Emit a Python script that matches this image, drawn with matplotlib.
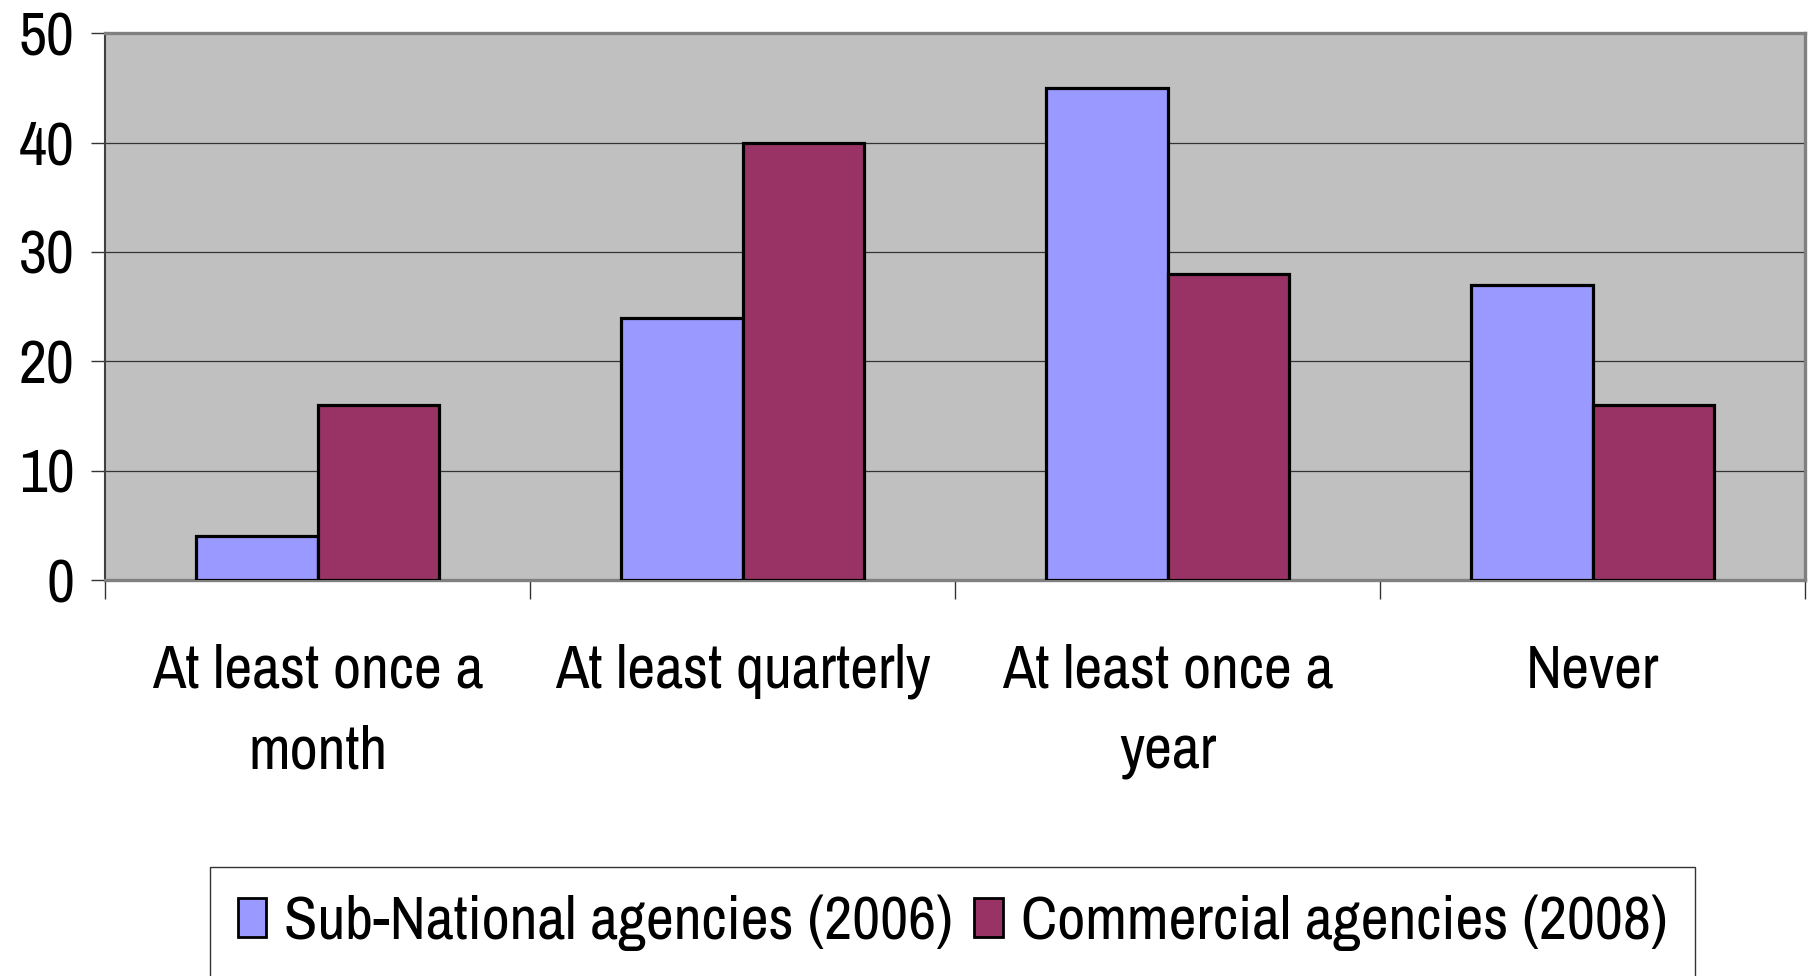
import matplotlib.pyplot as plt
import numpy as np

categories = ['At least once a\nmonth', 'At least quarterly', 'At least once a\nyear', 'Never']
sub_national_2006 = [4, 24, 45, 27]
commercial_2008 = [16, 40, 28, 16]
series_names = ['Sub-National agencies (2006)', 'Commercial agencies (2008)']
y_ticks = [0, 10, 20, 30, 40, 50]

plt.rcParams['font.family'] = ['Archivo Narrow', 'Liberation Sans', 'DejaVu Sans']

fig = plt.figure(figsize=(18.18, 9.76), dpi=100)
ax = fig.add_axes([0.0578, 0.4057, 0.9352, 0.5603])
ax.set_facecolor('#C0C0C0')

x = np.arange(len(categories))
w = 1 / 3.5
ax.bar(x - w / 2, sub_national_2006, w, color='#9999FF', edgecolor='black',
       linewidth=2.3, label=series_names[0], zorder=3)
ax.bar(x + w / 2, commercial_2008, w, color='#993366', edgecolor='black',
       linewidth=2.3, label=series_names[1], zorder=3)

ax.set_xlim(-0.5, len(categories) - 0.5)
ax.set_ylim(0, 50)
ax.set_yticks(y_ticks)
ax.yaxis.grid(True, color='#333333', linewidth=0.9, zorder=1)

# labels sit in the middle of each category, tick marks on the boundaries
ax.set_xticks(x)
ax.set_xticklabels(categories, fontsize=44, linespacing=1.58)
ax.set_xticks(np.arange(len(categories) + 1) - 0.5, minor=True)
ax.tick_params(axis='x', which='major', length=0, pad=46)
ax.tick_params(axis='x', which='minor', length=14, width=1, color='#333333', direction='out')
ax.tick_params(axis='y', length=10, width=1, color='#333333', labelsize=44, pad=12)

for side in ['top', 'right', 'bottom']:
    ax.spines[side].set_color('#808080')
    ax.spines[side].set_linewidth(2.4)
ax.spines['left'].set_color('#404040')
ax.spines['left'].set_linewidth(1.5)

leg = fig.legend(loc='upper center', bbox_to_anchor=(0.524, 0.112), ncol=2,
                 fontsize=44, frameon=True, fancybox=False, edgecolor='black',
                 handlelength=0.46, handleheight=0.6, handletextpad=0.3,
                 columnspacing=0.35, borderpad=0.45, borderaxespad=0)
leg.get_frame().set_linewidth(1.0)
for handle in leg.legend_handles:
    handle.set_linewidth(2.0)

fig.savefig('out.png', dpi=100)
